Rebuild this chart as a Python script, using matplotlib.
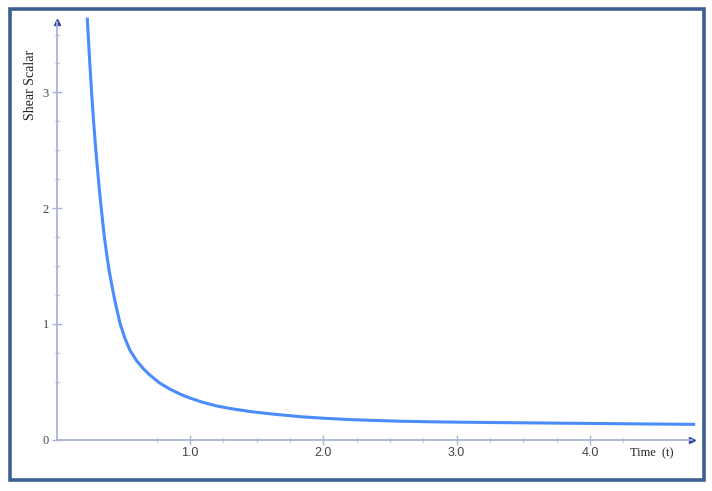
import matplotlib.pyplot as plt
from matplotlib.patches import Rectangle

# values
time_t = [0.229, 0.24, 0.25, 0.263, 0.276, 0.29, 0.305, 0.32, 0.344, 0.36,
          0.377, 0.395, 0.414, 0.44, 0.476, 0.51, 0.55, 0.60, 0.65, 0.70,
          0.77, 0.85, 0.93, 1.0, 1.1, 1.2, 1.3, 1.45, 1.6, 1.83, 2.0, 2.2,
          2.4, 2.58, 2.8, 3.0, 3.33, 3.7, 4.08, 4.45, 4.79]
shear = [3.646, 3.42, 3.22, 2.98, 2.76, 2.55, 2.35, 2.16, 1.89, 1.73,
         1.585, 1.45, 1.33, 1.18, 1.00, 0.88, 0.77, 0.68, 0.612, 0.556,
         0.49, 0.435, 0.39, 0.358, 0.32, 0.29, 0.268, 0.242, 0.222, 0.197, 0.184, 0.172,
         0.164, 0.158, 0.153, 0.150, 0.146, 0.142, 0.138, 0.134, 0.131]
x_major = [1.0, 2.0, 3.0, 4.0]
x_labels = ["1.0", "2.0", "3.0", "4.0"]
x_minor = [0.75, 1.25, 1.5, 1.75, 2.25, 2.5, 2.75, 3.25, 3.5, 3.75, 4.25]
y_major = [0, 1, 2, 3]
y_minor = [0.5, 0.75, 1.25, 1.5, 1.75, 2.25, 2.5, 2.75, 3.25, 3.5]

W, H = 712, 491
fig = plt.figure(figsize=(W / 100, H / 100), dpi=100)

# frame around the whole picture
fig.patches.append(Rectangle((9.5 / W, 1 - 480 / H), (703.5 - 9.5) / W, (480 - 8.5) / H,
                             transform=fig.transFigure, fill=False,
                             edgecolor="#3c5f92", linewidth=2.6))

x0, x1 = 56.7, 692.0
y0, y1 = 439.5, 22.0
ax = fig.add_axes([x0 / W, 1 - y0 / H, (x1 - x0) / W, (y0 - y1) / H])
xmax = (x1 - x0) / 133.3
ymax = (y0 - y1) / 115.7
ax.set_xlim(0, xmax)
ax.set_ylim(0, ymax)

axis_col = "#aab3d8"
for s in ["top", "right"]:
    ax.spines[s].set_visible(False)
for s in ["left", "bottom"]:
    ax.spines[s].set_color(axis_col)
    ax.spines[s].set_linewidth(1.3)

# arrow heads
ax.plot([xmax], [0], marker=">", color="#34469a", markersize=5, clip_on=False)
ax.plot([0], [ymax], marker="^", color="#34469a", markersize=5, clip_on=False)

ax.plot(time_t, shear, color="#4a8cfc", linewidth=2.2, clip_on=False, zorder=3,
        solid_joinstyle="round", solid_capstyle="butt")

ax.set_xticks(x_major)
ax.set_xticklabels(x_labels)
ax.set_xticks(x_minor, minor=True)
ax.set_yticks(y_major)
ax.set_yticks(y_minor, minor=True)
ax.tick_params(which="major", direction="inout", length=7, width=1.0, color=axis_col,
               labelsize=9, labelcolor="#444444", pad=2)
ax.tick_params(which="minor", direction="inout", length=3, width=1.0, color=axis_col)
for lab in ax.get_xticklabels():
    lab.set_fontfamily("Liberation Sans")
for lab in ax.get_yticklabels():
    lab.set_fontfamily("Liberation Serif")

fig.text(630 / W, 1 - 453 / H, "Time  (t)", fontsize=9, family="Liberation Serif",
         color="#222222", ha="left", va="center")
fig.text(31 / W, 1 - 85 / H, "Shear Scalar", fontsize=10, family="Liberation Serif",
         color="#222222", rotation=90, ha="center", va="center")

fig.savefig("out.png", dpi=100)
